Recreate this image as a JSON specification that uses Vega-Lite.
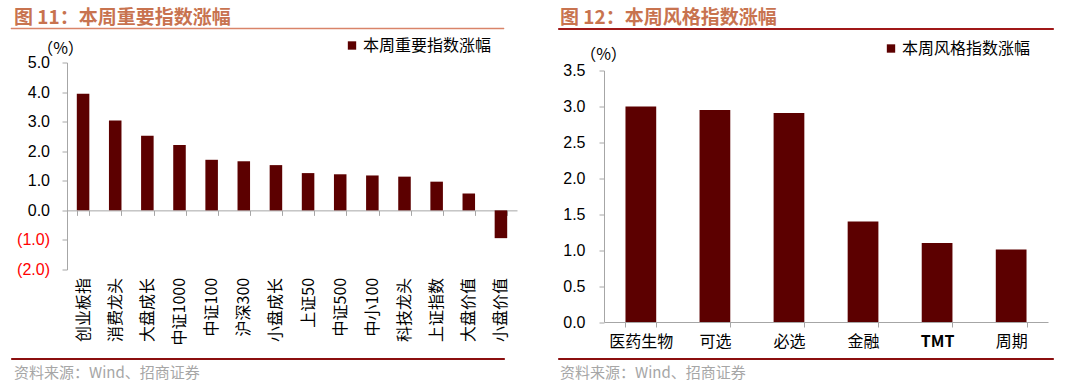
{
  "$schema": "https://vega.github.io/schema/vega-lite/v6.json",
  "padding": {"left": 3, "top": 8, "right": 0, "bottom": 0},
  "background": "#FFFFFF",
  "spacing": 7.5,
  "config": {"view": {"stroke": null}, "font": "Noto Sans CJK SC"},
  "resolve": {"scale": {"color": "independent"}},
  "vconcat": [
    {
      "spacing": 52,
      "hconcat": [
        {
          "width": 493, "height": 1,
          "view": {"fill": "#D9846A", "stroke": "#D9846A", "strokeWidth": 0.5},
          "title": {"text": "图 11：本周重要指数涨幅", "anchor": "start", "frame": "group", "offset": 0, "dx": 3, "font": "Noto Sans CJK SC", "fontSize": 19, "fontWeight": "bold", "color": "#C8734F"},
          "data": {"values": []},
          "mark": "text",
          "encoding": {"text": {"field": "t"}}
        },
        {
          "width": 495, "height": 1,
          "view": {"fill": "#A01818", "stroke": "#A01818", "strokeWidth": 1},
          "title": {"text": "图 12：本周风格指数涨幅", "anchor": "start", "frame": "group", "offset": 0, "dx": 2, "font": "Noto Sans CJK SC", "fontSize": 19, "fontWeight": "bold", "color": "#C8734F"},
          "data": {"values": []},
          "mark": "text",
          "encoding": {"text": {"field": "t"}}
        }
      ]
    },
    {
      "spacing": 39,
      "resolve": {"scale": {"color": "independent"}},
      "hconcat": [
        {
          "width": 506, "height": 207,
          "data": {"values": [
            {"name": "创业板指", "value": 3.94},
            {"name": "消费龙头", "value": 3.04},
            {"name": "大盘成长", "value": 2.52},
            {"name": "中证1000", "value": 2.21},
            {"name": "中证100", "value": 1.71},
            {"name": "沪深300", "value": 1.66},
            {"name": "小盘成长", "value": 1.53},
            {"name": "上证50", "value": 1.26},
            {"name": "中证500", "value": 1.22},
            {"name": "中小100", "value": 1.18},
            {"name": "科技龙头", "value": 1.14},
            {"name": "上证指数", "value": 0.97},
            {"name": "大盘价值", "value": 0.57},
            {"name": "小盘价值", "value": -0.94}
          ]},
          "mark": {"type": "bar"},
          "encoding": {
            "x": {"field": "name", "type": "nominal", "sort": null,
              "scale": {"range": [56, 506], "paddingInner": 0.61, "paddingOuter": 0.305},
              "axis": {"title": null, "orient": "bottom", "offset": -59.14, "domainColor": "#A6A6A6", "tickColor": "#A6A6A6", "tickSize": 5, "tickBand": "extent", "labelAngle": -90, "labelPadding": 62, "labelFont": "Noto Sans CJK SC", "labelFontSize": 16, "labelColor": "#000000"}},
            "y": {"field": "value", "type": "quantitative",
              "scale": {"domain": [-2, 5], "nice": false, "zero": false},
              "axis": {"title": "（%）", "offset": -56, "titleAngle": 0, "titleX": -7, "titleY": -14, "titleAlign": "center", "titleBaseline": "middle", "titleFont": "Noto Sans CJK SC", "titleFontSize": 16, "titleFontWeight": "normal", "titleColor": "#000000",
                "values": [-2, -1, 0, 1, 2, 3, 4, 5], "grid": false,
                "labelExpr": "datum.value < 0 ? '(' + format(-datum.value, '.1f') + ')' : format(datum.value, '.1f') + '\u00a0'",
                "labelColor": {"condition": {"test": "datum.value < 0", "value": "#FF0000"}, "value": "#000000"},
                "labelFont": "Liberation Sans", "labelFontSize": 16, "labelPadding": 12.5, "domainColor": "#A6A6A6", "tickColor": "#A6A6A6", "tickSize": 5}},
            "color": {"datum": "本周重要指数涨幅", "type": "nominal", "scale": {"range": ["#5C0000"]},
              "legend": {"title": null, "orient": "none", "legendX": 333, "legendY": -25, "symbolType": "square", "symbolSize": 70, "symbolStrokeWidth": 0, "labelFont": "Noto Sans CJK SC", "labelFontSize": 16, "labelColor": "#000000", "labelLimit": 300, "labelOffset": 3}}
          }
        },
        {
          "width": 492, "height": 259.5,
          "data": {"values": [
            {"name": "医药生物", "value": 3.00},
            {"name": "可选", "value": 2.95},
            {"name": "必选", "value": 2.91},
            {"name": "金融", "value": 1.40},
            {"name": "TMT", "value": 1.10},
            {"name": "周期", "value": 1.01}
          ]},
          "mark": {"type": "bar"},
          "encoding": {
            "x": {"field": "name", "type": "nominal", "sort": null,
              "scale": {"range": [48, 492], "paddingInner": 0.585, "paddingOuter": 0.29},
              "axis": {"title": null, "orient": "bottom", "domainColor": "#A6A6A6", "tickColor": "#A6A6A6", "tickSize": 5, "tickBand": "extent", "labelAngle": 0, "labelPadding": 6, "labelFont": "Noto Sans CJK SC", "labelFontSize": 16, "labelColor": "#000000",
                "labelFontWeight": {"condition": {"test": "datum.value === 'TMT'", "value": "bold"}, "value": "normal"}}},
            "y": {"field": "value", "type": "quantitative",
              "scale": {"domain": [0, 3.5], "nice": false, "range": [259.5, 8]},
              "axis": {"title": "（%）", "offset": -48, "titleAngle": 0, "titleX": -1, "titleY": -8, "titleAlign": "center", "titleBaseline": "middle", "titleFont": "Noto Sans CJK SC", "titleFontSize": 16, "titleFontWeight": "normal", "titleColor": "#000000",
                "values": [0, 0.5, 1, 1.5, 2, 2.5, 3, 3.5], "format": ".1f", "grid": false,
                "labelFont": "Liberation Sans", "labelFontSize": 16, "labelColor": "#000000", "labelPadding": 14, "domainColor": "#A6A6A6", "tickColor": "#A6A6A6", "tickSize": 5}},
            "color": {"datum": "本周风格指数涨幅", "type": "nominal", "scale": {"range": ["#5C0000"]},
              "legend": {"title": null, "orient": "none", "legendX": 327, "legendY": -22, "symbolType": "square", "symbolSize": 70, "symbolStrokeWidth": 0, "labelFont": "Noto Sans CJK SC", "labelFontSize": 16, "labelColor": "#000000", "labelLimit": 300, "labelOffset": 3}}
          }
        }
      ]
    },
    {
      "spacing": 52,
      "hconcat": [
        {
          "width": 493, "height": 1,
          "view": {"fill": "#8B0F0F", "stroke": "#8B0F0F", "strokeWidth": 1},
          "title": {"text": "资料来源：Wind、招商证券", "orient": "bottom", "anchor": "start", "frame": "group", "offset": 7, "dx": 3, "font": "Noto Sans CJK SC", "fontSize": 15, "fontWeight": "normal", "color": "#A6A6A6"},
          "data": {"values": []},
          "mark": "text",
          "encoding": {"text": {"field": "t"}}
        },
        {
          "width": 495, "height": 1,
          "view": {"fill": "#8B0F0F", "stroke": "#8B0F0F", "strokeWidth": 1},
          "title": {"text": "资料来源：Wind、招商证券", "orient": "bottom", "anchor": "start", "frame": "group", "offset": 7, "dx": 2, "font": "Noto Sans CJK SC", "fontSize": 15, "fontWeight": "normal", "color": "#A6A6A6"},
          "data": {"values": []},
          "mark": "text",
          "encoding": {"text": {"field": "t"}}
        }
      ]
    }
  ]
}
